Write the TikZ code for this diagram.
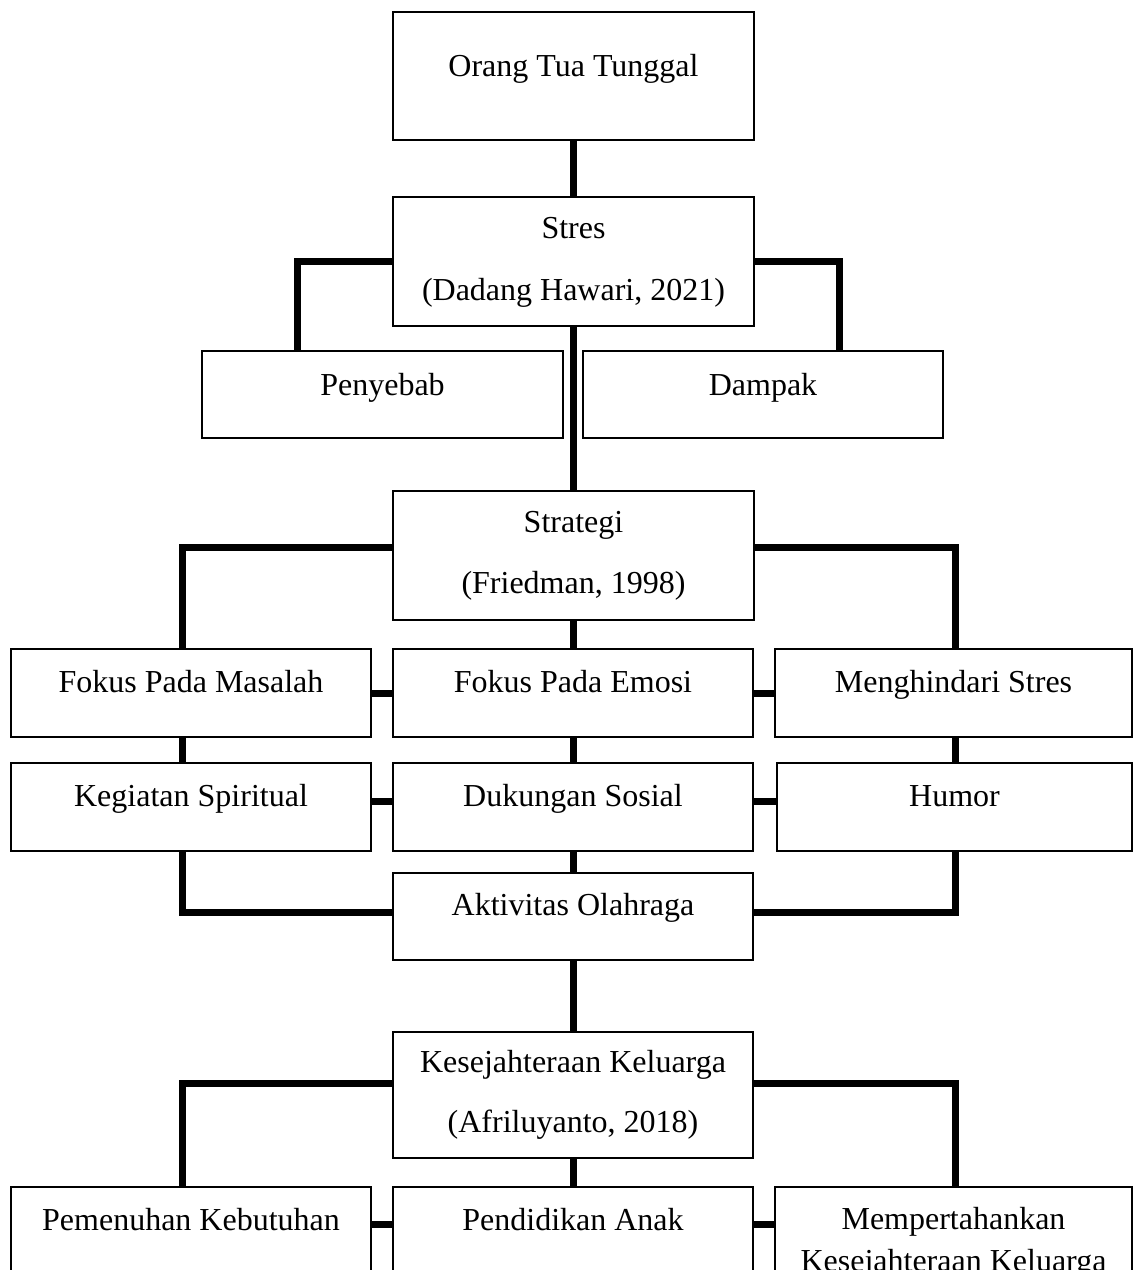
\documentclass[tikz,border=0pt]{standalone}
\usepackage{fontspec}
\setmainfont{Liberation Serif}
\usetikzlibrary{calc}
\begin{document}
\begin{tikzpicture}[x=0.5pt,y=-0.5pt,
  box/.style={draw, line width=1pt, fill=white, rectangle, inner sep=0pt},
  lbl/.style={anchor=base, inner sep=0pt, font=\fontsize{16pt}{19pt}\selectfont},
  conn/.style={line width=3.5pt, line join=miter}]
\useasboundingbox (0,0) rectangle (1134,1270);
\clip (0,0) rectangle (1134,1270);
% boxes
\node[box, minimum width=180.5pt, minimum height=64pt]   (A)  at (573.5,76) {};
\node[box, minimum width=180.5pt, minimum height=64.5pt] (B)  at (573.5,261.5) {};
\node[box, minimum width=180.5pt, minimum height=43.5pt] (C)  at (382.5,394.5) {};
\node[box, minimum width=180pt,   minimum height=43.5pt] (D)  at (763,394.5) {};
\node[box, minimum width=180.5pt, minimum height=64.5pt] (E)  at (573.5,555.5) {};
\node[box, minimum width=180pt,   minimum height=44pt]   (F1) at (191,693) {};
\node[box, minimum width=180pt,   minimum height=44pt]   (F2) at (573,693) {};
\node[box, minimum width=178.5pt, minimum height=44pt]   (F3) at (953.5,693) {};
\node[box, minimum width=180pt,   minimum height=44pt]   (G1) at (191,807) {};
\node[box, minimum width=180pt,   minimum height=44pt]   (G2) at (573,807) {};
\node[box, minimum width=177.5pt, minimum height=44pt]   (G3) at (954.5,807) {};
\node[box, minimum width=180pt,   minimum height=43.5pt] (H)  at (573,916.5) {};
\node[box, minimum width=180pt,   minimum height=63pt]   (I)  at (573,1095) {};
\node[box, minimum width=180pt,   minimum height=61.5pt] (J1) at (191,1248.5) {};
\node[box, minimum width=180pt,   minimum height=61.5pt] (J2) at (573,1248.5) {};
\node[box, minimum width=178.5pt, minimum height=61.5pt] (J3) at (953.5,1248.5) {};
% texts
\node[lbl] (tA)  at (573.5,76)  {Orang Tua Tunggal};
\node[lbl] (tB1) at (573.5,238) {Stres};
\node[lbl] (tB2) at (573.5,300) {(Dadang Hawari, 2021)};
\node[lbl] (tC)  at (382.5,395) {Penyebab};
\node[lbl] (tD)  at (763,395)   {Dampak};
\node[lbl] (tE1) at (573.5,532) {Strategi};
\node[lbl] (tE2) at (573.5,593) {(Friedman, 1998)};
\node[lbl] (tF1) at (191,692)   {Fokus Pada Masalah};
\node[lbl] (tF2) at (573,692)   {Fokus Pada Emosi};
\node[lbl] (tF3) at (953.5,692) {Menghindari Stres};
\node[lbl] (tG1) at (191,806)   {Kegiatan Spiritual};
\node[lbl] (tG2) at (573,806)   {Dukungan Sosial};
\node[lbl] (tG3) at (954.5,806) {Humor};
\node[lbl] (tH)  at (573,915)   {Aktivitas Olahraga};
\node[lbl] (tI1) at (573,1072)  {Kesejahteraan Keluarga};
\node[lbl] (tI2) at (573,1132)  {(Afriluyanto, 2018)};
\node[lbl] (tJ1) at (191,1230)  {Pemenuhan Kebutuhan};
\node[lbl] (tJ2) at (573,1230)  {Pendidikan Anak};
\node[lbl] (tJ3a) at (953.5,1229) {Mempertahankan};
\node[lbl] (tJ3b) at (953.5,1271) {Kesejahteraan Keluarga};
% connectors
\draw[conn] (A.south) -- (B.north);
\draw[conn] (B.west) -| ($(C.north)+(-85.5,0)$);
\draw[conn] (B.east) -| ($(D.north)+(76,0)$);
\draw[conn] (B.south) -- (E.north);
\draw[conn] ($(E.west)+(0,-8.5)$) -| ($(F1.north)+(-9,0)$);
\draw[conn] ($(E.east)+(0,-8.5)$) -| ($(F3.north)+(1.5,0)$);
\draw[conn] (E.south -| F2.north) -- (F2.north);
\draw[conn] (F1.east) -- (F2.west);
\draw[conn] (F2.east) -- (F3.west);
\draw[conn] ($(F1.south)+(-9,0)$) -- ($(G1.north)+(-9,0)$);
\draw[conn] (F2.south) -- (G2.north);
\draw[conn] ($(F3.south)+(1.5,0)$) -- ($(G3.north)+(0.5,0)$);
\draw[conn] ($(G1.east)+(0,-6)$) -- ($(G2.west)+(0,-6)$);
\draw[conn] ($(G2.east)+(0,-6)$) -- ($(G3.west)+(0,-6)$);
\draw[conn] ($(G1.south)+(-9,0)$) |- ($(H.west)+(0,-4)$);
\draw[conn] ($(G3.south)+(0.5,0)$) |- ($(H.east)+(0,-4)$);
\draw[conn] (G2.south) -- (H.north);
\draw[conn] (H.south) -- (I.north);
\draw[conn] ($(I.west)+(0,-12)$) -| ($(J1.north)+(-9,0)$);
\draw[conn] ($(I.east)+(0,-12)$) -| ($(J3.north)+(1.5,0)$);
\draw[conn] (I.south) -- (J2.north);
\draw[conn] ($(J1.east)+(0,-24.5)$) -- ($(J2.west)+(0,-24.5)$);
\draw[conn] ($(J2.east)+(0,-24.5)$) -- ($(J3.west)+(0,-24.5)$);
\end{tikzpicture}
\end{document}
